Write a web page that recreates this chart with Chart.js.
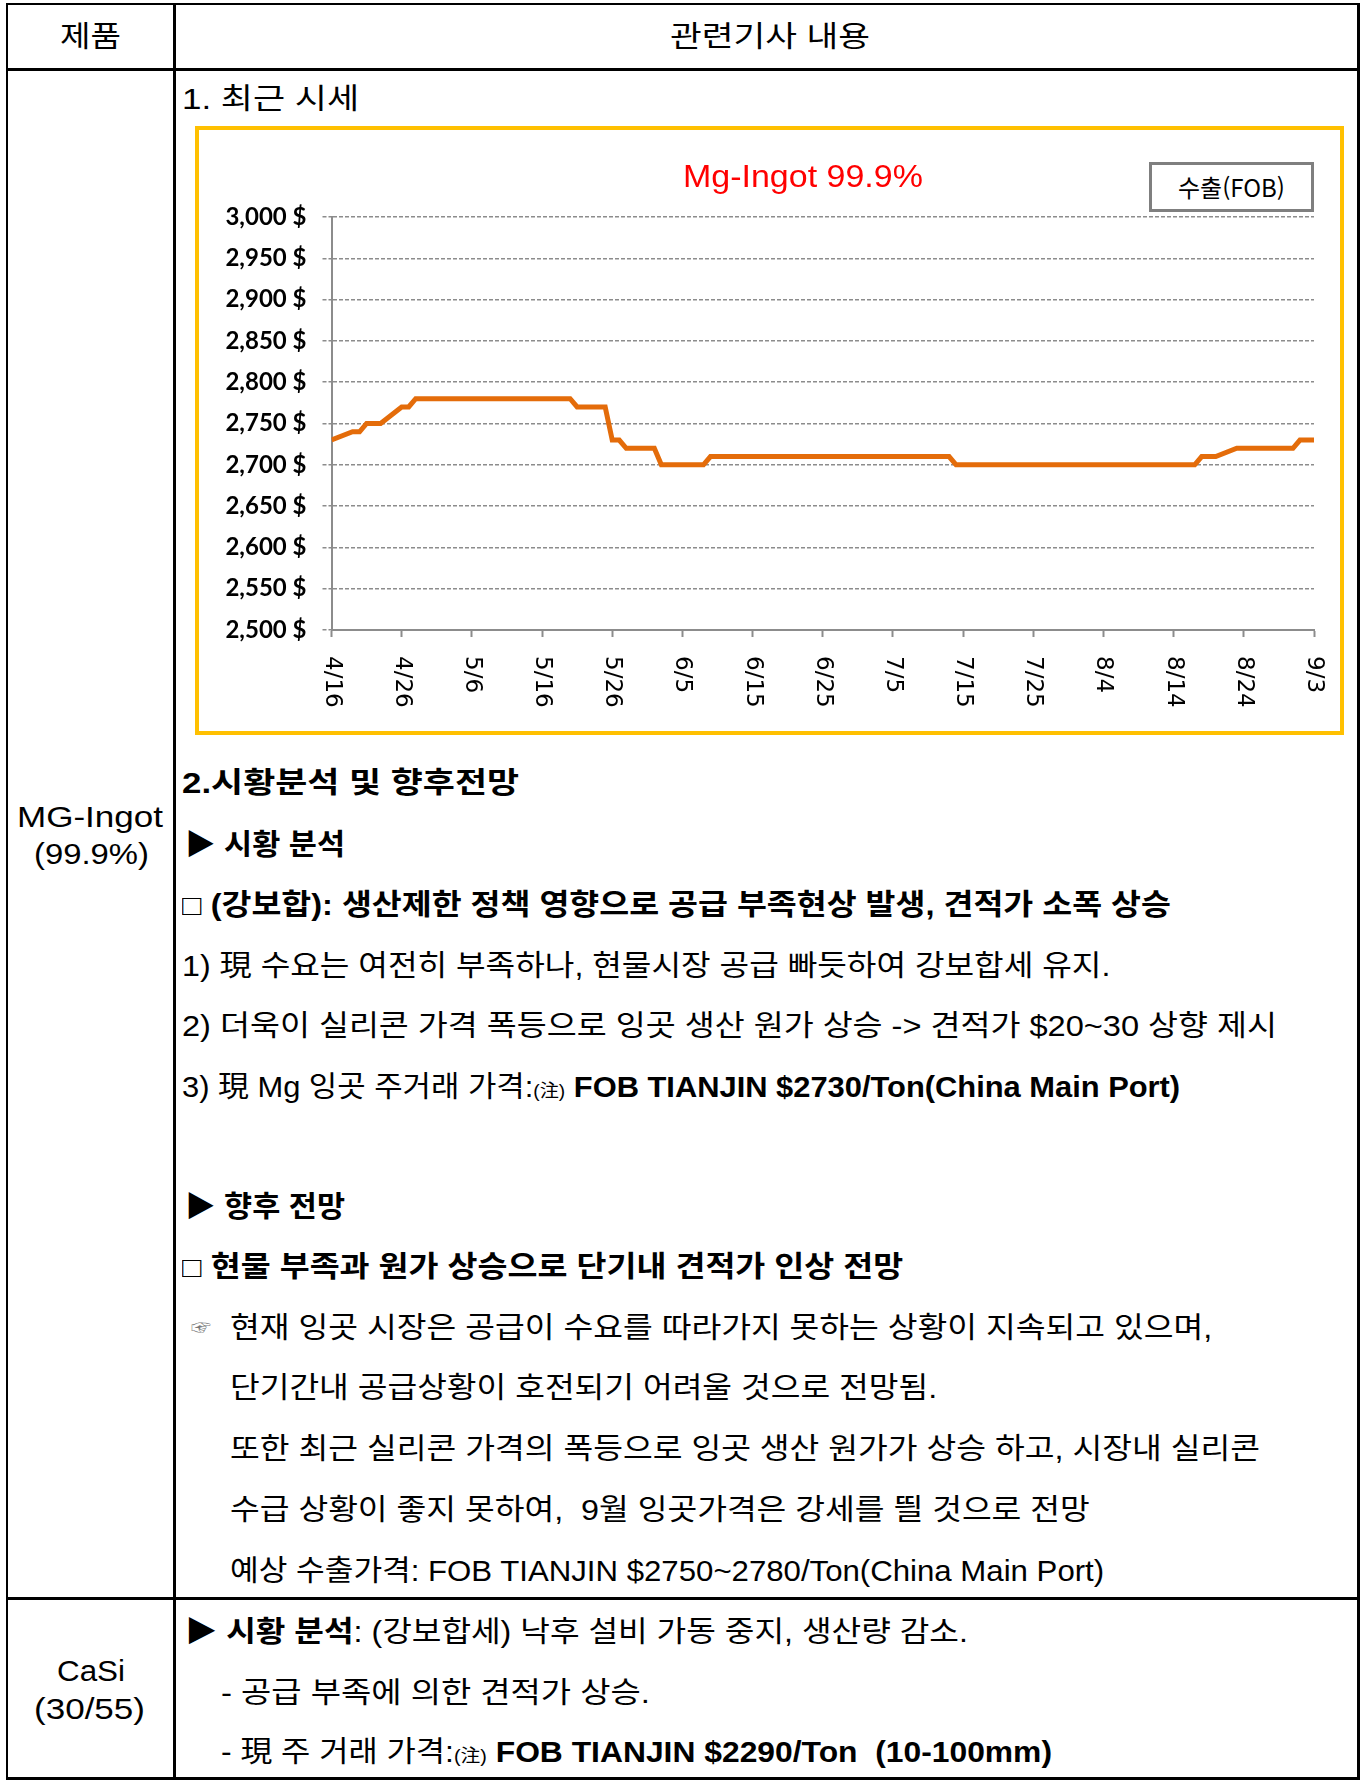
<!DOCTYPE html>
<html lang="ko">
<head>
<meta charset="utf-8">
<title>Mg-Ingot 99.9%</title>
<script src="https://cdn.jsdelivr.net/npm/chart.js@4.4.0/dist/chart.umd.min.js"></script>
<style>
  body { margin: 0; width: 1362px; height: 1780px; position: relative; overflow: hidden; background: #fff;
         font-family: "Liberation Sans", "Noto Sans CJK KR", sans-serif; color: #000; }
  .ln { position: absolute; background: #000; }
  .t { position: absolute; white-space: nowrap; font-size: 29px; line-height: 40px; transform-origin: 0 50%; }
  .b { font-weight: 700; }
  .note { font-size: 18px; }
  #box { position: absolute; left: 195px; top: 126px; width: 1141px; height: 601px; border: 4px solid #FFC000; }
  #title { position: absolute; top: 156px; color: #FF0000; font-size: 32px; line-height: 40px; white-space: nowrap; transform-origin: 0 50%; }
  #legend { position: absolute; left: 1149px; top: 162px; width: 159px; height: 44px; border: 3px solid #7f7f7f;
            background: #fff; font-family: "Noto Sans CJK KR", sans-serif; font-size: 24px; line-height: 44px; text-align: center; }
</style>
</head>
<body>

<!-- 표 테두리 -->
<div class="ln" style="left:6px; top:3px; width:1354px; height:2px"></div>
<div class="ln" style="left:6px; top:68px; width:1354px; height:3px"></div>
<div class="ln" style="left:6px; top:1597px; width:1354px; height:3px"></div>
<div class="ln" style="left:6px; top:1777px; width:1354px; height:3px"></div>
<div class="ln" style="left:6px; top:3px; width:2px; height:1777px"></div>
<div class="ln" style="left:173px; top:3px; width:3px; height:1777px"></div>
<div class="ln" style="left:1357px; top:3px; width:3px; height:1777px"></div>

<div class="t" data-l="60" data-r="121" style="top:17px">제품</div>
<div class="t" data-l="670" data-r="870" style="top:17px">관련기사 내용</div>
<div class="t" data-l="182" data-r="359" style="top:79px">1. 최근 시세</div>

<div id="box"><canvas id="graph1" width="1141" height="601"></canvas></div>
<div id="title" data-l="683" data-r="923"></div>
<div id="legend"></div>

<div class="t" data-l="17" data-r="163" style="top:797px">MG-Ingot</div>
<div class="t" data-l="34" data-r="149" style="top:834px">(99.9%)</div>

<div class="t b" data-l="182" data-r="519" style="top:763px">2.시황분석 및 향후전망</div>
<div class="t b" data-l="185" data-r="345" style="top:825px">▶ 시황 분석</div>
<div class="t b" data-l="182" data-r="1171" style="top:885px">□ (강보합): 생산제한 정책 영향으로 공급 부족현상 발생, 견적가 소폭 상승</div>
<div class="t" data-l="182" data-r="1110" style="top:946px">1) 現 수요는 여전히 부족하나, 현물시장 공급 빠듯하여 강보합세 유지.</div>
<div class="t" data-l="182" data-r="1277" style="top:1006px">2) 더욱이 실리콘 가격 폭등으로 잉곳 생산 원가 상승 -&gt; 견적가 $20~30 상향 제시</div>
<div class="t" data-l="182" data-r="1180" style="top:1067px">3) 現 Mg 잉곳 주거래 가격:<span class="note">(注)</span> <span class="b">FOB TIANJIN $2730/Ton(China Main Port)</span></div>

<div class="t b" data-l="185" data-r="345" style="top:1187px">▶ 향후 전망</div>
<div class="t b" data-l="182" data-r="903" style="top:1247px">□ 현물 부족과 원가 상승으로 단기내 견적가 인상 전망</div>
<div class="t" style="top:1308px; left:191px; font-size:20px; color:#777">☞</div>
<div class="t" data-l="230" data-r="1212" style="top:1308px">현재 잉곳 시장은 공급이 수요를 따라가지 못하는 상황이 지속되고 있으며,</div>
<div class="t" data-l="230" data-r="937" style="top:1368px">단기간내 공급상황이 호전되기 어려울 것으로 전망됨.</div>
<div class="t" data-l="230" data-r="1260" style="top:1429px">또한 최근 실리콘 가격의 폭등으로 잉곳 생산 원가가 상승 하고, 시장내 실리콘</div>
<div class="t" data-l="230" data-r="1090" style="top:1490px">수급 상황이 좋지 못하여,&nbsp; 9월 잉곳가격은 강세를 띌 것으로 전망</div>
<div class="t" data-l="230" data-r="1104" style="top:1551px">예상 수출가격: FOB TIANJIN $2750~2780/Ton(China Main Port)</div>

<div class="t" data-l="57" data-r="125" style="top:1651px">CaSi</div>
<div class="t" data-l="34" data-r="145" style="top:1689px">(30/55)</div>
<div class="t" data-l="185" data-r="968" style="top:1612px">▶ <span class="b">시황 분석</span>: (강보합세) 낙후 설비 가동 중지, 생산량 감소.</div>
<div class="t" data-l="221" data-r="650" style="top:1673px">- 공급 부족에 의한 견적가 상승.</div>
<div class="t" data-l="221" data-r="1052" style="top:1732px">- 現 주 거래 가격:<span class="note">(注)</span> <span class="b">FOB TIANJIN $2290/Ton&nbsp; (10-100mm)</span></div>

<script>
// Données : prix FOB aux points de changement (jours écoulés depuis le 4/16)
const dayOffsets = [0, 3, 4, 5, 7, 10, 11, 12, 34, 35, 39, 40, 41, 42, 46, 47, 53, 54, 88, 89, 123, 124, 126, 129, 137, 138, 140];
const fobPrices = [2730, 2740, 2740, 2750, 2750, 2770, 2770, 2780, 2780, 2770, 2770, 2730, 2730, 2720, 2720, 2700, 2700, 2710, 2710, 2700, 2700, 2710, 2710, 2720, 2720, 2730, 2730];
const dateTicks = ['4/16', '4/26', '5/6', '5/16', '5/26', '6/5', '6/15', '6/25', '7/5', '7/15', '7/25', '8/4', '8/14', '8/24', '9/3'];
const seriesName = '수출(FOB)';
const chartTitle = 'Mg-Ingot 99.9%';

// Étiquettes de l'axe X écrites verticalement (de haut en bas)
const verticalDateLabels = {
    id: 'verticalDateLabels',
    afterDraw(chart) {
        const xs = chart.scales.x;
        const ctx = chart.ctx;
        ctx.save();
        ctx.font = '23px "DejaVu Sans"';
        ctx.fillStyle = '#000';
        ctx.textAlign = 'left';
        ctx.textBaseline = 'middle';
        xs.ticks.forEach(tick => {
            ctx.save();
            ctx.translate(xs.getPixelForValue(tick.value), xs.top + 26);
            ctx.rotate(Math.PI / 2);
            ctx.fillText(tick.label, 0, 0);
            ctx.restore();
        });
        ctx.restore();
    }
};

const ctx = document.getElementById('graph1').getContext('2d');
const chart = new Chart(ctx, {
    type: 'line',
    data: {
        datasets: [{
            label: seriesName,
            data: dayOffsets.map((d, i) => ({ x: d, y: fobPrices[i] })),
            borderColor: '#E46C0A',
            borderWidth: 5,
            pointRadius: 0,
            tension: 0
        }]
    },
    options: {
        responsive: false,
        animation: false,
        devicePixelRatio: 1,
        layout: { padding: { top: 87, right: 26, left: 0, bottom: 0 } },
        plugins: {
            legend: { display: false },
            tooltip: { enabled: false }
        },
        scales: {
            x: {
                type: 'linear',
                min: 0,
                max: 140,
                afterFit: scale => { scale.height = 101; },
                grid: { drawOnChartArea: false, drawTicks: true, tickLength: 7, tickColor: '#8c8c8c', tickWidth: 2 },
                border: { display: true, color: '#8c8c8c', width: 2 },
                ticks: { display: false, stepSize: 10, callback: (v, i) => dateTicks[i] }
            },
            y: {
                min: 2500,
                max: 3000,
                afterFit: scale => { scale.width = 132.5; },
                grid: { color: '#8c8c8c', lineWidth: 1.5, tickLength: 9, tickColor: '#8c8c8c', tickBorderDash: [4, 2] },
                border: { display: true, color: '#8c8c8c', width: 2, dash: [4, 2] },
                ticks: {
                    stepSize: 50,
                    padding: 16,
                    color: '#000',
                    font: { family: 'Lato', weight: 'bold', size: 24 },
                    callback: v => v.toLocaleString('en-US') + ' $'
                }
            }
        }
    },
    plugins: [verticalDateLabels]
});

// Titre et légende en HTML
document.getElementById('title').textContent = chartTitle;
document.getElementById('legend').textContent = chart.data.datasets[0].label;

// Ajustement horizontal des lignes de texte
document.querySelectorAll('[data-l]').forEach(el => {
    const l = +el.dataset.l, r = +el.dataset.r;
    el.style.left = l + 'px';
    const w = el.getBoundingClientRect().width;
    el.style.transform = 'scaleX(' + ((r - l) / w).toFixed(3) + ')';
});
</script>
</body>
</html>
